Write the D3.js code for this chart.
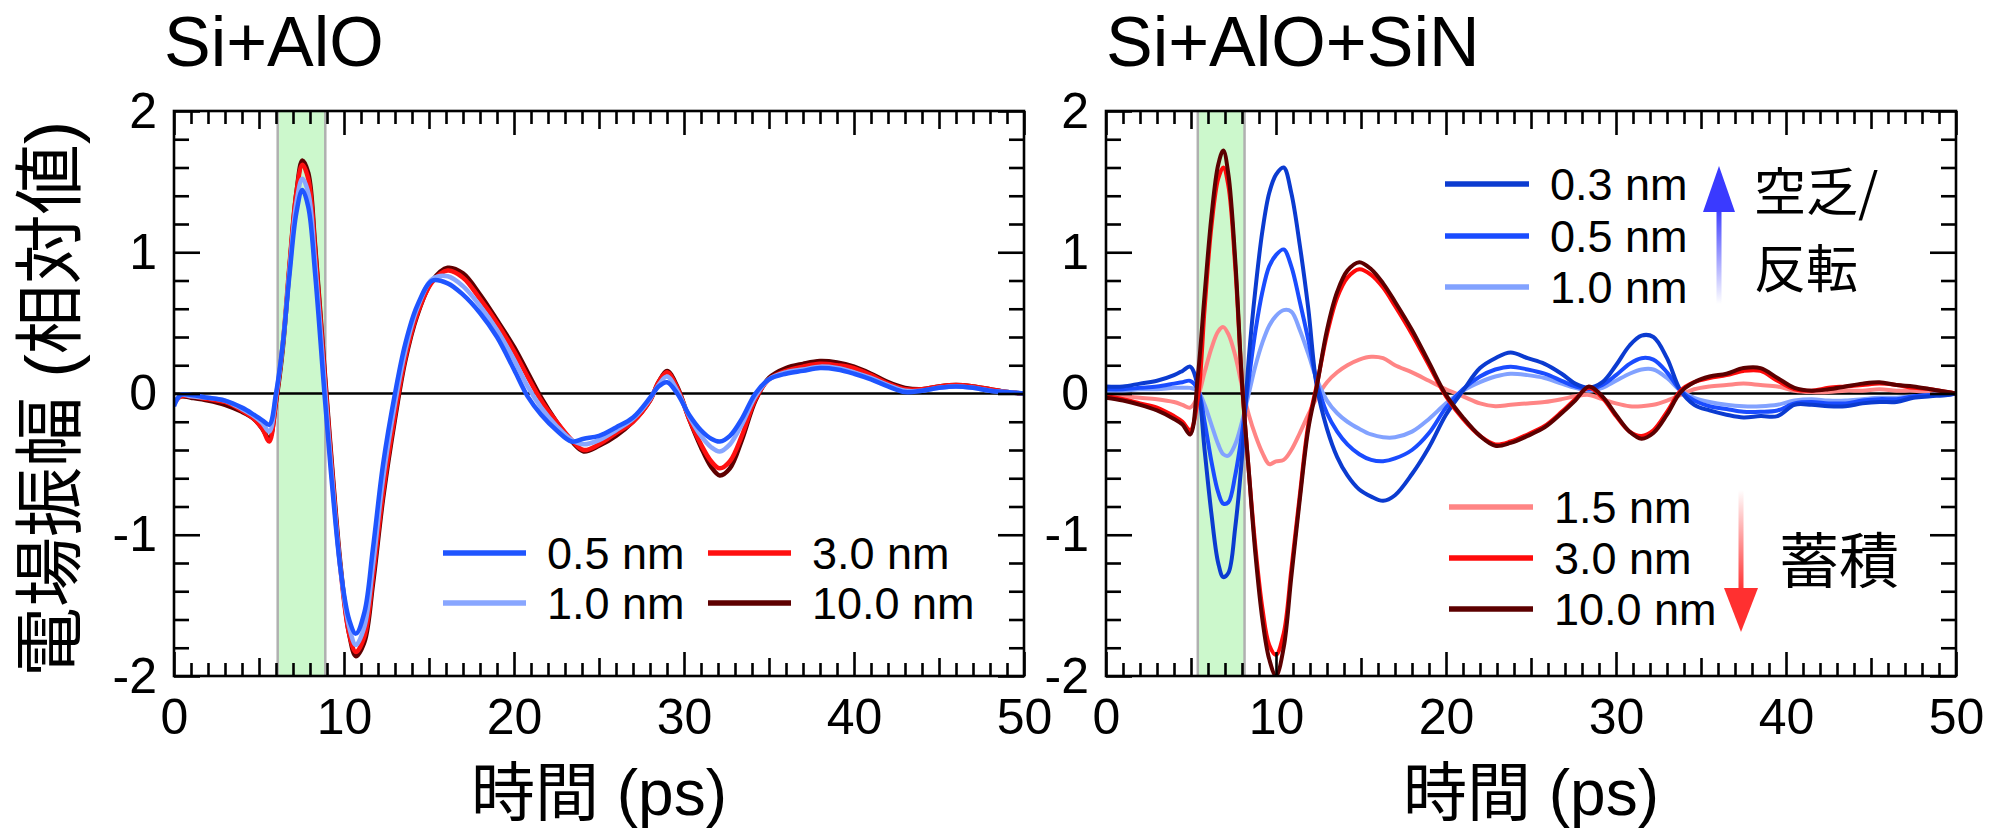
<!DOCTYPE html>
<html>
<head>
<meta charset="utf-8">
<script src="https://cdn.jsdelivr.net/npm/d3@7"></script>
<style>
  html, body { margin: 0; padding: 0; background: #fff; }
  svg { display: block; }
</style>
</head>
<body>
<svg id="chart" width="1997" height="829"></svg>
<script>
// ---------- data ----------
// Si+AlO : time samples (ps) and field amplitude (relative) per AlO thickness
const timeAlO = [0, 0.4, 1, 2, 3, 4, 4.7, 5.2, 5.6, 6.0, 6.4, 6.8, 7.2, 7.55, 7.9, 8.3, 8.85, 9.3, 9.8, 10.3,
  10.7, 11.2, 11.7, 12.3, 13.0, 13.6, 14.3, 15.2, 16.1, 17.0, 18.0, 19.0, 20.0, 20.8, 21.6, 22.5, 23.4, 24.1, 25.0, 26.0,
  27.0, 28.0, 28.5, 29.0, 29.6, 30.3, 31.0, 31.6, 32.1, 32.7, 33.4, 34.2, 35.0, 36, 37, 38, 39, 40, 41, 42,
  43, 44, 45, 46, 47, 48, 49, 50];
const alo_05 = [-0.09, -0.01, -0.01, -0.03, -0.05, -0.10, -0.15, -0.19, -0.22, 0.0,
  0.35, 0.85, 1.28, 1.44, 1.32, 0.85, 0.0, -0.65, -1.25, -1.60,
  -1.70, -1.55, -1.10, -0.50, 0.0, 0.35, 0.62, 0.80, 0.78, 0.70,
  0.57, 0.40, 0.17, -0.02, -0.15, -0.26, -0.34, -0.32, -0.30, -0.24,
  -0.17, -0.03, 0.05, 0.08, 0.0, -0.15, -0.26, -0.32, -0.34, -0.30,
  -0.18, 0.0, 0.10, 0.14, 0.16, 0.18, 0.17, 0.14, 0.10, 0.05,
  0.01, 0.02, 0.04, 0.05, 0.04, 0.02, 0.01, 0.0];
const alo_10 = [-0.08, -0.01, -0.02, -0.03, -0.05, -0.11, -0.16, -0.21, -0.27, -0.02,
  0.35, 0.88, 1.35, 1.52, 1.42, 0.93, 0.08, -0.6, -1.25, -1.65,
  -1.78, -1.65, -1.22, -0.6, -0.07, 0.3, 0.6, 0.81, 0.83, 0.76,
  0.62, 0.45, 0.24, 0.05, -0.1, -0.23, -0.33, -0.36, -0.33, -0.26,
  -0.18, -0.04, 0.06, 0.12, 0.02, -0.16, -0.3, -0.38, -0.41, -0.36,
  -0.22, -0.02, 0.1, 0.15, 0.17, 0.19, 0.18, 0.15, 0.11, 0.06,
  0.02, 0.02, 0.04, 0.05, 0.04, 0.02, 0.01, 0.0];
const alo_30 = [-0.07, -0.02, -0.02, -0.04, -0.06, -0.12, -0.18, -0.25, -0.34, -0.05,
  0.35, 0.92, 1.42, 1.62, 1.52, 1.02, 0.15, -0.55, -1.25, -1.7,
  -1.83, -1.72, -1.3, -0.7, -0.15, 0.25, 0.56, 0.79, 0.87, 0.82,
  0.67, 0.5, 0.3, 0.12, -0.05, -0.2, -0.33, -0.40, -0.36, -0.28,
  -0.2, -0.05, 0.08, 0.15, 0.04, -0.18, -0.36, -0.48, -0.53, -0.48,
  -0.3, -0.04, 0.1, 0.16, 0.19, 0.21, 0.2, 0.18, 0.13, 0.07,
  0.03, 0.03, 0.05, 0.06, 0.05, 0.03, 0.01, 0.0];
const alo_100 = [-0.06, -0.02, -0.03, -0.05, -0.08, -0.13, -0.18, -0.25, -0.32, -0.06,
  0.32, 0.9, 1.42, 1.65, 1.56, 1.05, 0.18, -0.52, -1.22, -1.7,
  -1.86, -1.76, -1.35, -0.74, -0.18, 0.23, 0.55, 0.8, 0.89, 0.85,
  0.7, 0.52, 0.33, 0.15, -0.03, -0.2, -0.34, -0.41, -0.37, -0.3,
  -0.2, -0.05, 0.08, 0.16, 0.05, -0.18, -0.38, -0.52, -0.58, -0.53,
  -0.33, -0.05, 0.11, 0.18, 0.21, 0.23, 0.22, 0.19, 0.14, 0.08,
  0.04, 0.03, 0.05, 0.06, 0.05, 0.03, 0.01, 0.0];

// Si+AlO+SiN : time samples (ps) and field amplitude (relative) per AlO thickness
const timeSiN = [0, 1, 2, 3, 4, 4.5, 4.95, 5.4, 5.8, 6.2, 6.6, 6.9, 7.2, 7.6, 8.0, 8.4, 8.8, 9.2, 9.6, 10.0,
  10.45, 10.9, 11.4, 11.9, 12.4, 13.0, 13.6, 14.2, 14.9, 15.6, 16.3, 17.0, 18.0, 19.0, 20.0, 21.0, 22.0, 22.9, 23.8, 24.8,
  25.8, 26.8, 27.6, 28.4, 29.2, 30.0, 30.8, 31.5, 32.2, 33.0, 33.8, 34.6, 35.5, 36.5, 37.5, 38.5, 39.5, 40.5, 41.5, 42.5,
  43.5, 44.5, 45.5, 46.5, 47.5, 48.5, 49.5, 50];
const sin_03 = [0.05, 0.05, 0.07, 0.09, 0.13, 0.16, 0.19, 0.05, -0.4, -0.85,
  -1.2, -1.3, -1.27, -0.95, -0.45, 0.25, 0.75, 1.15, 1.42, 1.55,
  1.6, 1.42, 1.05, 0.6, 0.05, -0.25, -0.45, -0.58, -0.68, -0.73,
  -0.76, -0.72, -0.57, -0.38, -0.15, 0.02, 0.18, 0.25, 0.29, 0.25,
  0.21, 0.14, 0.07, 0.04, 0.08, 0.2, 0.34, 0.41, 0.40, 0.25,
  0.02, -0.08, -0.12, -0.15, -0.17, -0.16, -0.16, -0.08, -0.08, -0.09,
  -0.09, -0.07, -0.06, -0.06, -0.03, -0.02, -0.01, 0.0];
const sin_05 = [0.03, 0.03, 0.04, 0.05, 0.07, 0.08, 0.09, 0.03, -0.2, -0.48,
  -0.7, -0.78, -0.77, -0.58, -0.28, 0.1, 0.45, 0.72, 0.9, 0.98,
  1.02, 0.9, 0.65, 0.38, 0.08, -0.14, -0.27, -0.36, -0.43, -0.47,
  -0.48, -0.46, -0.4, -0.28, -0.1, 0.03, 0.12, 0.17, 0.19, 0.17,
  0.14, 0.09, 0.05, 0.03, 0.06, 0.13, 0.21, 0.25, 0.24, 0.15,
  0.02, -0.05, -0.09, -0.11, -0.13, -0.13, -0.12, -0.07, -0.06, -0.07,
  -0.07, -0.05, -0.04, -0.04, -0.02, -0.01, -0.01, 0.0];
const sin_10 = [0.02, 0.02, 0.03, 0.03, 0.04, 0.04, 0.04, 0.02, -0.08, -0.22,
  -0.36, -0.43, -0.44, -0.36, -0.2, 0.0, 0.2, 0.36, 0.48, 0.55,
  0.59, 0.58, 0.45, 0.28, 0.1, -0.05, -0.14, -0.2, -0.25, -0.29,
  -0.31, -0.31, -0.27, -0.18, -0.07, 0.02, 0.08, 0.12, 0.14, 0.13,
  0.11, 0.07, 0.04, 0.02, 0.04, 0.09, 0.14, 0.17, 0.17, 0.11,
  0.02, -0.03, -0.06, -0.08, -0.09, -0.09, -0.08, -0.05, -0.04, -0.05,
  -0.05, -0.04, -0.03, -0.03, -0.02, -0.01, 0.0, 0.0];
const sin_15 = [-0.02, -0.02, -0.03, -0.04, -0.06, -0.08, -0.1, -0.02, 0.15, 0.32,
  0.44, 0.47, 0.42, 0.27, 0.05, -0.15, -0.3, -0.42, -0.5, -0.48,
  -0.47, -0.4, -0.28, -0.15, -0.03, 0.08, 0.15, 0.2, 0.24, 0.26,
  0.25, 0.2, 0.15, 0.09, 0.03, -0.02, -0.07, -0.09, -0.08, -0.07,
  -0.06, -0.04, -0.02, -0.01, -0.04, -0.07, -0.09, -0.09, -0.08, -0.05,
  -0.01, 0.03, 0.05, 0.06, 0.07, 0.06, 0.05, 0.02, 0.01, 0.01,
  0.02, 0.02, 0.03, 0.02, 0.02, 0.01, 0.01, 0.0];
const sin_30 = [-0.02, -0.04, -0.07, -0.1, -0.16, -0.2, -0.26, -0.04, 0.6, 1.18,
  1.52, 1.6, 1.47, 0.9, 0.07, -0.55, -1.1, -1.52, -1.78, -1.85,
  -1.7, -1.25, -0.72, -0.22, 0.06, 0.42, 0.68, 0.82, 0.88, 0.84,
  0.75, 0.62, 0.42, 0.2, -0.02, -0.18, -0.3, -0.36, -0.34, -0.29,
  -0.23, -0.13, -0.04, 0.04, -0.03, -0.16, -0.27, -0.3, -0.26, -0.13,
  0.02, 0.08, 0.11, 0.13, 0.16, 0.16, 0.09, 0.03, 0.02, 0.04,
  0.05, 0.06, 0.07, 0.06, 0.04, 0.03, 0.01, 0.0];
const sin_100 = [-0.03, -0.05, -0.08, -0.12, -0.18, -0.22, -0.29, 0.12, 0.7, 1.25,
  1.62, 1.72, 1.55, 0.95, 0.08, -0.55, -1.15, -1.6, -1.88, -2.0,
  -1.8, -1.3, -0.75, -0.25, 0.05, 0.45, 0.72, 0.87, 0.93, 0.88,
  0.78, 0.65, 0.45, 0.22, -0.01, -0.17, -0.3, -0.37, -0.35, -0.3,
  -0.24, -0.14, -0.05, 0.05, -0.02, -0.15, -0.27, -0.32, -0.28, -0.15,
  0.01, 0.08, 0.12, 0.14, 0.18, 0.18, 0.11, 0.04, 0.02, 0.03,
  0.05, 0.07, 0.08, 0.06, 0.05, 0.03, 0.01, 0.0];

// axis ticks and labels
const xMajor = [0, 10, 20, 30, 40, 50];
const yMajor = [-2, -1, 0, 1, 2];
const xTitle = "時間 (ps)";
const yTitle = "電場振幅 (相対値)";

// ---------- layout ----------
const svg = d3.select("#chart");
const LATIN = "'Liberation Sans', Arial, Helvetica, sans-serif";
const MIXED = "'Liberation Sans', 'Noto Sans CJK JP', sans-serif";
const CJK = "'Noto Sans CJK JP', 'Noto Sans CJK SC', sans-serif";
const plotTop = 111, plotBottom = 676, plotWidth = 850;
const LEGEND_FS = 45;
const defs = svg.append("defs");

const xMinor = d3.range(0, 51, 1).filter(d => d % 5 !== 0);
const xMid = [5, 15, 25, 35, 45];
const yMinor = d3.range(-2, 2.01, 0.2).map(d => +d.toFixed(1)).filter(d => Math.abs(d - Math.round(d)) > 1e-6);

function tickStyle(g) {
  g.select(".domain").remove();
  g.selectAll(".tick line").attr("stroke", "#000").attr("stroke-width", 2.6);
  g.selectAll(".tick text").filter(function () { return !this.textContent; }).remove();
}

function drawPanel(p) {
  const x = d3.scaleLinear().domain([0, 50]).range([p.left, p.left + plotWidth]);
  const y = d3.scaleLinear().domain([-2, 2]).range([plotBottom, plotTop]);
  const g = svg.append("g");

  // excitation window
  g.append("rect")
    .attr("x", x(p.band[0])).attr("y", y(2))
    .attr("width", x(p.band[1]) - x(p.band[0])).attr("height", y(-2) - y(2))
    .attr("fill", "#ccf8cc");
  g.selectAll("line.band").data(p.band).join("line")
    .attr("class", "band")
    .attr("x1", d => x(d)).attr("x2", d => x(d))
    .attr("y1", y(2)).attr("y2", y(-2))
    .attr("stroke", "#b0b0b0").attr("stroke-width", 2.5);

  // zero line
  g.append("line")
    .attr("x1", x(0)).attr("x2", x(50)).attr("y1", y(0)).attr("y2", y(0))
    .attr("stroke", "#000").attr("stroke-width", 2.4);

  // waveforms
  const clipId = "clip-" + p.id;
  defs.append("clipPath").attr("id", clipId).append("rect")
    .attr("x", x(0)).attr("y", y(2)).attr("width", plotWidth).attr("height", y(-2) - y(2));
  const line = d3.line()
    .x((d, i) => x(p.time[i]))
    .y(d => y(d))
    .curve(d3.curveCatmullRom.alpha(0.5));
  g.append("g").attr("clip-path", `url(#${clipId})`)
    .selectAll("path").data(p.series).join("path")
    .attr("d", s => line(s.values))
    .attr("fill", "none")
    .attr("stroke", s => s.color)
    .attr("stroke-width", p.lineWidth)
    .attr("stroke-linejoin", "round");

  // ticks on all four sides, pointing inward
  const bottom = (vals, len, labels) => d3.axisBottom(x).tickValues(vals).tickSizeInner(-len).tickSizeOuter(0)
    .tickPadding(22).tickFormat(labels ? (d => String(d)) : () => "");
  const top = (vals, len) => d3.axisTop(x).tickValues(vals).tickSizeInner(-len).tickSizeOuter(0).tickFormat(() => "");
  const left = (vals, len, labels) => d3.axisLeft(y).tickValues(vals).tickSizeInner(-len).tickSizeOuter(0)
    .tickPadding(17).tickFormat(labels ? (d => String(d)) : () => "");
  const right = (vals, len) => d3.axisRight(y).tickValues(vals).tickSizeInner(-len).tickSizeOuter(0).tickFormat(() => "");

  const gb = g.append("g").attr("transform", `translate(0,${plotBottom})`);
  gb.append("g").call(bottom(xMinor, 13, false)).call(tickStyle);
  gb.append("g").call(bottom(xMid, 18, false)).call(tickStyle);
  gb.append("g").call(bottom(xMajor, 24, true)).call(tickStyle);
  const gt = g.append("g").attr("transform", `translate(0,${plotTop})`);
  gt.append("g").call(top(xMinor, 13)).call(tickStyle);
  gt.append("g").call(top(xMid, 18)).call(tickStyle);
  gt.append("g").call(top(xMajor, 24)).call(tickStyle);
  const gl = g.append("g").attr("transform", `translate(${x(0)},0)`);
  gl.append("g").call(left(yMinor, 15, false)).call(tickStyle);
  gl.append("g").call(left(yMajor, 26, true)).call(tickStyle);
  const gr = g.append("g").attr("transform", `translate(${x(50)},0)`);
  gr.append("g").call(right(yMinor, 15)).call(tickStyle);
  gr.append("g").call(right(yMajor, 26)).call(tickStyle);

  g.selectAll(".tick text")
    .attr("font-family", LATIN).attr("font-size", 50).attr("fill", "#000");

  // frame
  g.append("rect")
    .attr("x", x(0)).attr("y", y(2)).attr("width", plotWidth).attr("height", y(-2) - y(2))
    .attr("fill", "none").attr("stroke", "#000").attr("stroke-width", 2.6);

  // panel title
  g.append("text")
    .attr("x", x(0) + p.titleDx).attr("y", 66)
    .attr("font-family", LATIN).attr("font-size", 70).attr("fill", "#000")
    .text(p.title);

  // x-axis title
  g.append("text")
    .attr("x", x(25)).attr("y", 815)
    .attr("text-anchor", "middle")
    .attr("font-family", MIXED).attr("font-size", 64).attr("fill", "#000")
    .text(xTitle);

  return { x, y, g };
}

function legendRow(g, lx0, lx1, ty, label, color) {
  g.append("line")
    .attr("x1", lx0).attr("x2", lx1).attr("y1", ty).attr("y2", ty)
    .attr("stroke", color).attr("stroke-width", 5.5);
  g.append("text")
    .attr("x", lx1 + 21).attr("y", ty + 16)
    .attr("font-family", LATIN).attr("font-size", LEGEND_FS).attr("fill", "#000")
    .text(label);
}

// ---------- left panel ----------
const left = drawPanel({
  id: "alo", left: 174, title: "Si+AlO", titleDx: -10, band: [6.1, 8.9], lineWidth: 4.5,
  time: timeAlO,
  series: [
    { values: alo_100, color: "#5e0000" },
    { values: alo_30, color: "#ff1010" },
    { values: alo_10, color: "#88a6ff" },
    { values: alo_05, color: "#1f55ff" }
  ]
});
legendRow(left.g, 443, 526, 553, "0.5 nm", "#1f55ff");
legendRow(left.g, 443, 526, 603, "1.0 nm", "#88a6ff");
legendRow(left.g, 708, 791, 553, "3.0 nm", "#ff1010");
legendRow(left.g, 708, 791, 603, "10.0 nm", "#5e0000");

// y-axis title (shared, at the far left)
svg.append("text")
  .attr("transform", "translate(75,399) rotate(-90)")
  .attr("text-anchor", "middle")
  .attr("font-family", MIXED).attr("font-size", 70).attr("fill", "#000")
  .text(yTitle);

// ---------- right panel ----------
const right = drawPanel({
  id: "sin", left: 1106, title: "Si+AlO+SiN", titleDx: 0, band: [5.4, 8.15], lineWidth: 4,
  time: timeSiN,
  series: [
    { values: sin_15, color: "#ff8585" },
    { values: sin_10, color: "#82a2ff" },
    { values: sin_05, color: "#1a4cff" },
    { values: sin_03, color: "#0b3bd0" },
    { values: sin_30, color: "#ff0a0a" },
    { values: sin_100, color: "#5c0000" }
  ]
});
legendRow(right.g, 1445, 1529, 184, "0.3 nm", "#0b3bd0");
legendRow(right.g, 1445, 1529, 236, "0.5 nm", "#1a4cff");
legendRow(right.g, 1445, 1529, 287, "1.0 nm", "#82a2ff");
legendRow(right.g, 1449, 1533, 507, "1.5 nm", "#ff8585");
legendRow(right.g, 1449, 1533, 558, "3.0 nm", "#ff0a0a");
legendRow(right.g, 1449, 1533, 609, "10.0 nm", "#5c0000");

// trend arrows
const gUp = defs.append("linearGradient").attr("id", "gradUp")
  .attr("x1", 0).attr("y1", 0).attr("x2", 0).attr("y2", 1);
gUp.append("stop").attr("offset", "0%").attr("stop-color", "#3a3aff");
gUp.append("stop").attr("offset", "100%").attr("stop-color", "#ffffff");
const gDown = defs.append("linearGradient").attr("id", "gradDown")
  .attr("x1", 0).attr("y1", 0).attr("x2", 0).attr("y2", 1);
gDown.append("stop").attr("offset", "0%").attr("stop-color", "#ffffff");
gDown.append("stop").attr("offset", "100%").attr("stop-color", "#ff3030");

const rg = right.g;
rg.append("rect").attr("x", 1716.5).attr("y", 208).attr("width", 5).attr("height", 96).attr("fill", "url(#gradUp)");
rg.append("polygon").attr("points", "1719,166 1703,212 1735,212").attr("fill", "#3a3aff");
rg.append("rect").attr("x", 1738.5).attr("y", 490).attr("width", 5).attr("height", 101).attr("fill", "url(#gradDown)");
rg.append("polygon").attr("points", "1724,588 1758,588 1741,632").attr("fill", "#ff3030");

// annotations: two-line label for the upward trend, one line for the downward trend
const upLabel = rg.append("text")
  .attr("font-family", CJK).attr("font-size", 52).attr("fill", "#000");
upLabel.append("tspan").attr("x", 1754).attr("y", 211).text("空乏/");
upLabel.append("tspan").attr("x", 1754).attr("y", 288).text("反転");
rg.append("text").attr("x", 1779).attr("y", 583)
  .attr("font-family", CJK).attr("font-size", 60).attr("fill", "#000").text("蓄積");
</script>
</body>
</html>
